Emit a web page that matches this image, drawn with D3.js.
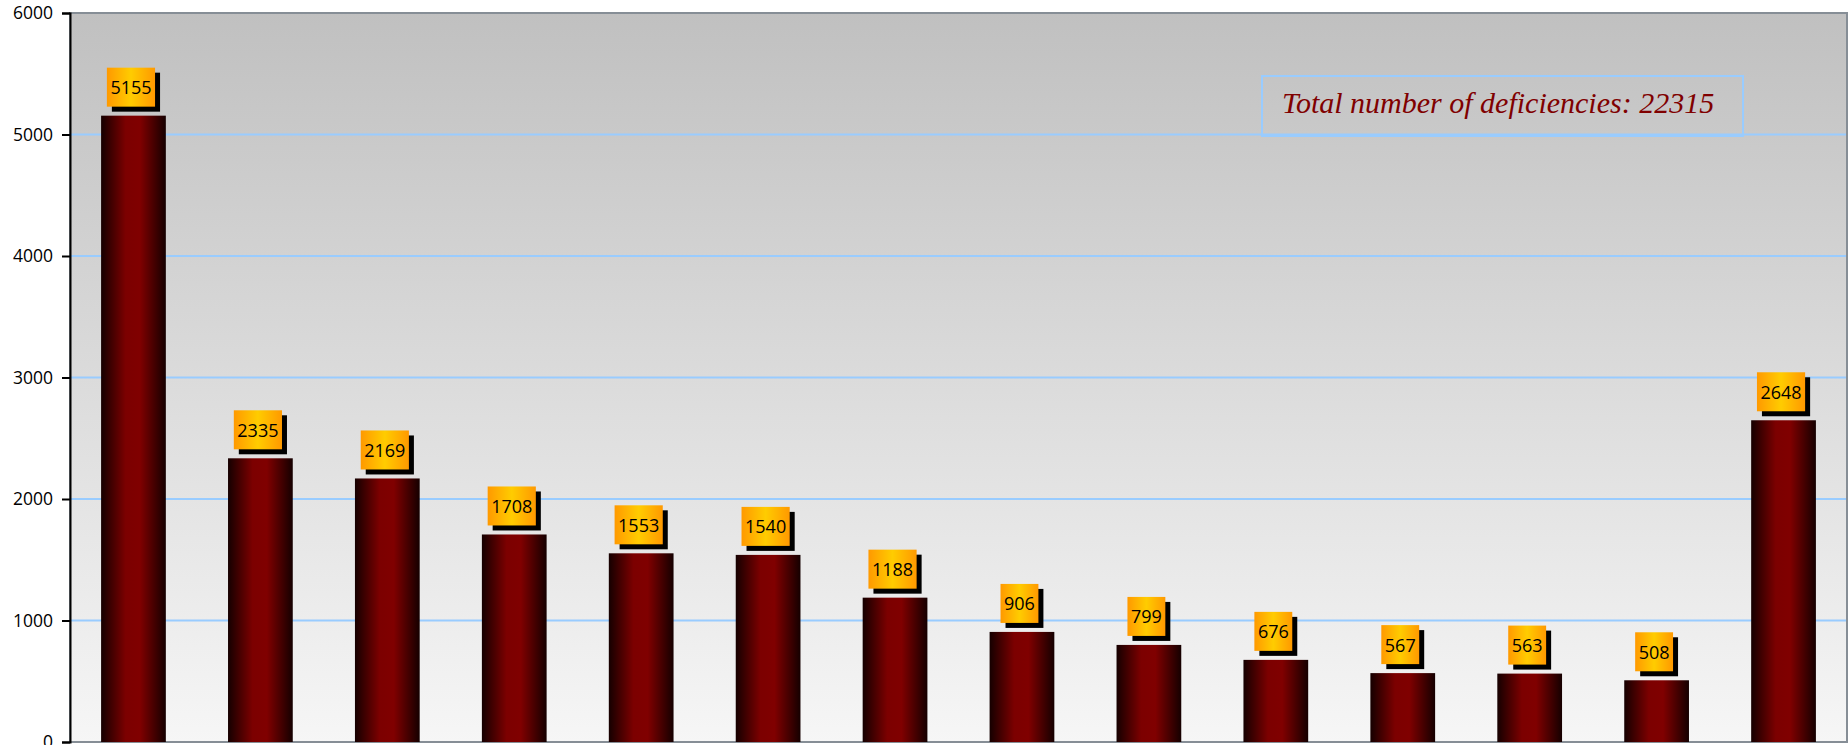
<!DOCTYPE html>
<html>
<head>
<meta charset="utf-8">
<script src="https://cdn.jsdelivr.net/npm/d3@7"></script>
<style>
  html, body { margin: 0; padding: 0; background: #ffffff; overflow: hidden; }
  svg { display: block; }
</style>
</head>
<body>
<svg id="chart"></svg>
<script>
// deficiency counts per category (x labels are below the visible area)
const categories = ["c01", "c02", "c03", "c04", "c05", "c06", "c07", "c08", "c09", "c10", "c11", "c12", "c13", "c14"];
const counts = [5155, 2335, 2169, 1708, 1553, 1540, 1188, 906, 799, 676, 567, 563, 508, 2648];
const yTicks = [0, 1000, 2000, 3000, 4000, 5000, 6000];
const totalLabel = "Total number of deficiencies: " + d3.sum(counts);

const width = 1848;
const height = 745;
const leftBorder = 70;
const rightBorder = 1;
const topBorder = 13;
const botBorder = 3;

const data = categories.map((c, i) => ({ cat: c, v: counts[i] }));

const svg = d3.select("#chart")
    .attr("width", width)
    .attr("height", height);

const x = d3.scaleBand()
    .domain(categories)
    .range([leftBorder, width - rightBorder])
    .paddingInner(0.49)
    .paddingOuter(0.245);

const y = d3.scaleLinear()
    .domain([0, 6000])
    .range([height - botBorder, topBorder]);

const defs = svg.append("defs");

const bg = defs.append("linearGradient")
    .attr("id", "bg")
    .attr("x1", 0).attr("y1", 0).attr("x2", 0).attr("y2", 1);
bg.append("stop").attr("offset", "0%").attr("stop-color", "#c0c0c0");
bg.append("stop").attr("offset", "100%").attr("stop-color", "#f6f6f6");

const barGrad = defs.append("linearGradient")
    .attr("id", "barGrad")
    .attr("x1", 0).attr("y1", 0).attr("x2", 1).attr("y2", 0);
barGrad.append("stop").attr("offset", "0%").attr("stop-color", "#150000");
barGrad.append("stop").attr("offset", "38%").attr("stop-color", "#7c0000");
barGrad.append("stop").attr("offset", "60%").attr("stop-color", "#800000");
barGrad.append("stop").attr("offset", "100%").attr("stop-color", "#150000");

const lblGrad = defs.append("linearGradient")
    .attr("id", "lblGrad")
    .attr("x1", 0).attr("y1", 0).attr("x2", 1).attr("y2", 0);
lblGrad.append("stop").attr("offset", "0%").attr("stop-color", "#ff9900");
lblGrad.append("stop").attr("offset", "50%").attr("stop-color", "#ffcc00");
lblGrad.append("stop").attr("offset", "100%").attr("stop-color", "#ff9900");

// plot area background
svg.append("rect")
    .attr("x", leftBorder)
    .attr("y", y(6000))
    .attr("width", width - rightBorder - leftBorder)
    .attr("height", y(0) - y(6000))
    .attr("fill", "url(#bg)");

// grid lines
svg.append("g")
    .selectAll("line")
    .data(yTicks.filter(t => t > 0 && t < 6000))
    .join("line")
    .attr("x1", leftBorder)
    .attr("x2", width - rightBorder)
    .attr("y1", d => y(d))
    .attr("y2", d => y(d))
    .attr("stroke", "#99ccff")
    .attr("stroke-width", 2);

// plot frame (gray)
svg.append("rect")
    .attr("x", leftBorder)
    .attr("y", y(6000))
    .attr("width", width - rightBorder - leftBorder)
    .attr("height", y(0) - y(6000))
    .attr("fill", "none")
    .attr("stroke", "#868e96")
    .attr("stroke-width", 2);

// total box
const totalG = svg.append("g");
totalG.append("rect")
    .attr("x", 1262)
    .attr("y", 76)
    .attr("width", 481)
    .attr("height", 60)
    .attr("fill", "none")
    .attr("stroke", "#99ccff")
    .attr("stroke-width", 2);
totalG.append("text")
    .attr("x", 1282)
    .attr("y", 113)
    .attr("font-family", "'Liberation Serif', 'Times New Roman', serif")
    .attr("font-style", "italic")
    .attr("font-size", 30)
    .attr("fill", "#800000")
    .text(totalLabel);

// bars
svg.append("g")
    .selectAll("rect")
    .data(data)
    .join("rect")
    .attr("x", d => x(d.cat))
    .attr("y", d => y(d.v))
    .attr("width", x.bandwidth())
    .attr("height", d => y(0) - y(d.v))
    .attr("fill", "url(#barGrad)");

// y axis
const yAxis = svg.append("g")
    .attr("transform", "translate(" + leftBorder + ",0)")
    .call(d3.axisLeft(y).tickValues(yTicks).tickSize(8).tickPadding(9).tickFormat(d3.format("d")));
yAxis.select(".domain").attr("stroke", "#000").attr("stroke-width", 2);
yAxis.selectAll(".tick line").attr("stroke", "#000").attr("stroke-width", 2);
yAxis.selectAll(".tick text")
    .attr("font-family", "'Open Sans', sans-serif")
    .attr("font-size", 17.5)
    .attr("fill", "#000");

// value labels
const lbl = svg.append("g")
    .selectAll("g")
    .data(data)
    .join("g");

lbl.each(function (d) {
    const g = d3.select(this);
    const cx = x(d.cat) + x.bandwidth() / 2 - 2.5;
    const boxH = 39;
    const bottom = y(d.v) - 9;
    const t = g.append("text")
        .attr("font-family", "'Open Sans', sans-serif")
        .attr("font-size", 18)
        .attr("fill", "#000")
        .attr("text-anchor", "middle")
        .attr("dominant-baseline", "central")
        .attr("x", cx)
        .attr("y", bottom - boxH / 2)
        .text(d.v);
    const w = t.node().getComputedTextLength() + 7;
    g.insert("rect", "text")
        .attr("x", cx - w / 2 + 5)
        .attr("y", bottom - boxH + 5)
        .attr("width", w)
        .attr("height", boxH)
        .attr("fill", "#000");
    g.insert("rect", "text")
        .attr("x", cx - w / 2)
        .attr("y", bottom - boxH)
        .attr("width", w)
        .attr("height", boxH)
        .attr("fill", "url(#lblGrad)");
});
</script>
</body>
</html>
